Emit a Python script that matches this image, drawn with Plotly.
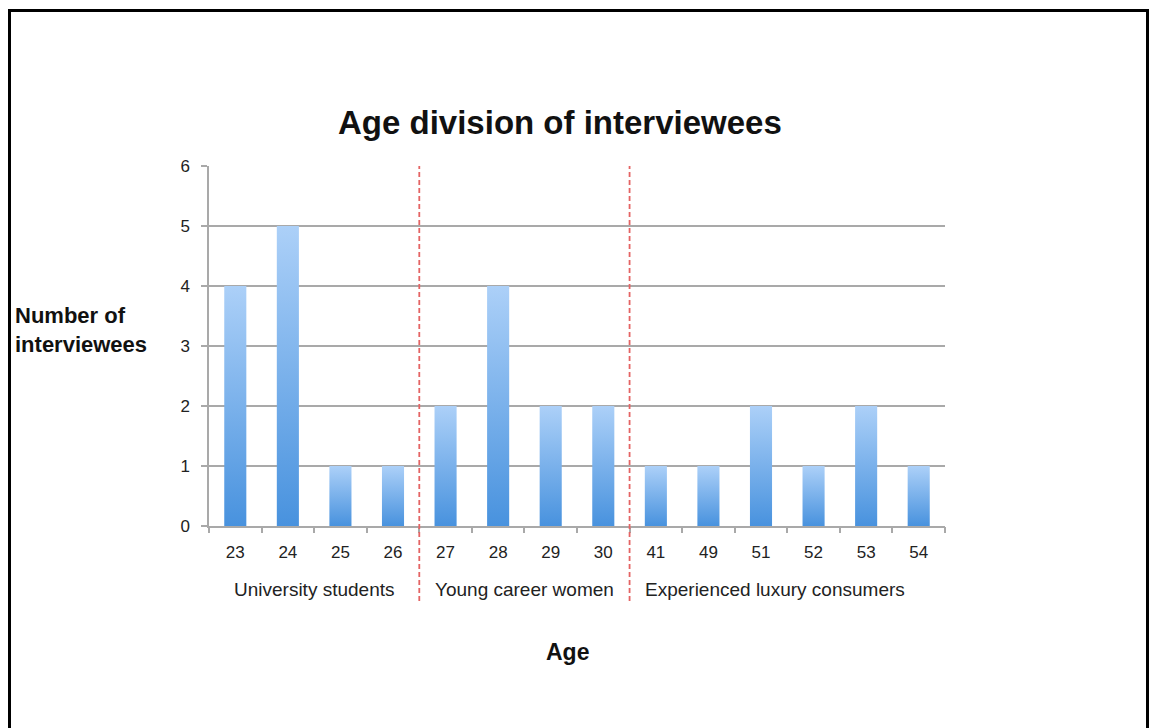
import plotly.graph_objects as go

# Interviewee counts by age, grouped into three respondent segments
ages = ["23", "24", "25", "26", "27", "28", "29", "30", "41", "49", "51", "52", "53", "54"]
counts = [4, 5, 1, 1, 2, 4, 2, 2, 1, 1, 2, 1, 2, 1]
groups = ["University students", "Young career women", "Experienced luxury consumers"]
group_sizes = [4, 4, 6]
y_ticks = [0, 1, 2, 3, 4, 5, 6]

W, H = 1151, 728
ML, MR, MT, MB = 209, 206, 166, 202
PW, PH = W - ML - MR, H - MT - MB

BAR_W = 0.42
LIGHT = "rgb(172,208,248)"
DARK = "rgb(72,146,222)"
GRID = "#a9a9a9"
TXT = "#222222"
FONT = "Liberation Sans, Arial, sans-serif"

fig = go.Figure()

# each bar is a filled polygon so it can carry a vertical gradient
for i, v in enumerate(counts):
    x0, x1 = i - BAR_W / 2, i + BAR_W / 2
    fig.add_trace(go.Scatter(
        x=[x0, x0, x1, x1, x0], y=[0, v, v, 0, 0],
        mode="lines", fill="toself", line=dict(width=0),
        fillgradient=dict(type="vertical", colorscale=[[0, DARK], [1, LIGHT]]),
        hoverinfo="skip", showlegend=False, xaxis="x", yaxis="y",
    ))

# invisible trace that keeps the boundary-tick axis active
fig.add_trace(go.Scatter(x=[-0.5, len(ages) - 0.5], y=[0, 0], mode="lines",
                         line=dict(width=0), hoverinfo="skip",
                         showlegend=False, xaxis="x2", yaxis="y"))

n = len(ages)
fig.update_layout(
    width=W, height=H,
    margin=dict(l=ML, r=MR, t=MT, b=MB),
    paper_bgcolor="white", plot_bgcolor="white",
    font=dict(family=FONT, color=TXT),
    xaxis=dict(range=[-0.5, n - 0.5], tickmode="array",
               tickvals=list(range(n)), ticktext=ages,
               ticks="", showgrid=False, zeroline=False,
               showline=True, linecolor=GRID, linewidth=1.5,
               tickfont=dict(size=17, color=TXT), ticklabelstandoff=10),
    xaxis2=dict(range=[-0.5, n - 0.5], overlaying="x", anchor="y", side="bottom",
                tickmode="array", tickvals=[k - 0.5 for k in range(n + 1)],
                showticklabels=False, ticks="outside", ticklen=6,
                tickcolor=GRID, tickwidth=1.5, showgrid=False, zeroline=False,
                showline=False),
    yaxis=dict(range=[0, 6], tickmode="array", tickvals=y_ticks,
               ticks="outside", ticklen=6, tickcolor=GRID, tickwidth=1.5,
               showgrid=True, gridcolor=GRID, gridwidth=1.5, zeroline=False,
               showline=True, linecolor=GRID, linewidth=1.5,
               tickfont=dict(size=17, color=TXT), ticklabelstandoff=8),
    showlegend=False,
)

# group separators
edges = []
acc = 0
for s in group_sizes[:-1]:
    acc += s
    edges.append(acc - 0.5)
for e in edges:
    fig.add_shape(type="line", xref="x", yref="paper", x0=e, x1=e,
                  y0=-0.208, y1=1.0,
                  line=dict(color="rgb(228,100,100)", width=1.8, dash="5px,3px"))

# group labels beneath the age ticks
start = 0
shifts = [0, 0, -12]
for g, s, sh in zip(groups, group_sizes, shifts):
    centre = start + (s - 1) / 2
    fig.add_annotation(x=centre, y=-0.177, xref="x", yref="paper", text=g,
                       showarrow=False, font=dict(size=19, color=TXT),
                       xshift=sh, yanchor="middle")
    start += s

# chart title and axis titles
fig.add_annotation(x=0.5, y=1.0 + 44 / PH, xref="paper", yref="paper",
                   text="<b>Age division of interviewees</b>", showarrow=False,
                   xshift=-17, yanchor="middle",
                   font=dict(size=33, color="#111111"))
fig.add_annotation(x=0.5, y=-126 / PH, xref="paper", yref="paper",
                   text="<b>Age</b>", showarrow=False, xshift=-10,
                   yanchor="middle", font=dict(size=23, color="#111111"))
fig.add_annotation(x=-(ML - 13) / PW, y=(526 - 330) / PH, xref="paper", yref="paper",
                   text="<b>Number of<br>interviewees</b>", showarrow=False,
                   xanchor="left", yanchor="middle", align="left",
                   font=dict(size=22, color="#111111"))

# outer frame around the figure
fig.add_shape(type="rect", xref="paper", yref="paper",
              x0=-(ML - 9.5) / PW, x1=1 + (MR - 3.5) / PW,
              y0=-(MB + 20) / PH, y1=1 + (MT - 10.5) / PH,
              line=dict(color="black", width=3), fillcolor="rgba(0,0,0,0)")

fig.write_html("out.html")
